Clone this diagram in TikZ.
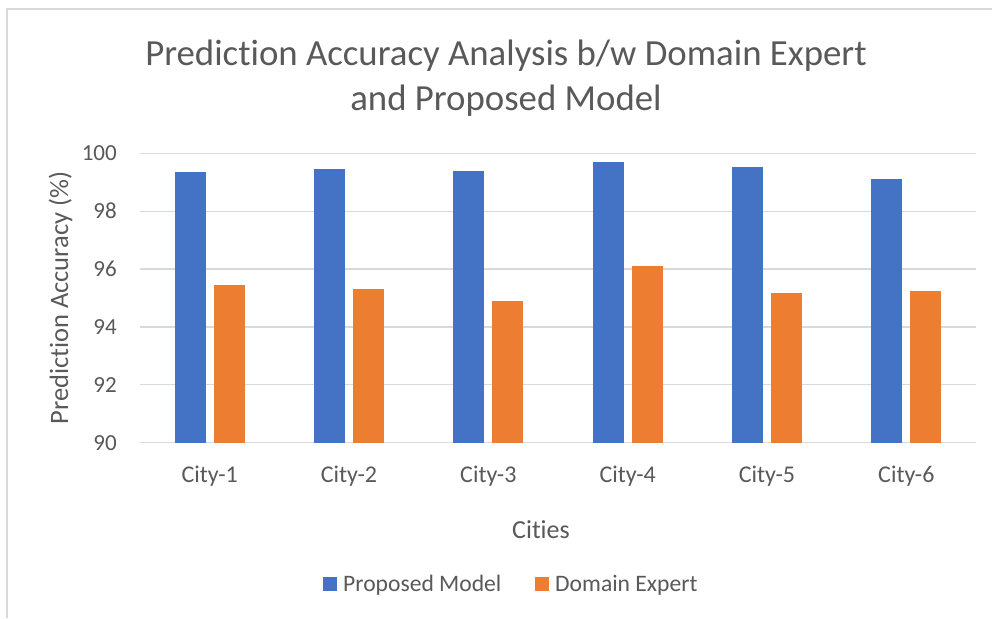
\documentclass[tikz,border=0pt]{standalone}
\usepackage{fontspec}
\setmainfont{Carlito}[Ligatures=NoCommon]
\usepackage{xcolor}
\definecolor{proposed}{RGB}{68,114,196}
\definecolor{expert}{RGB}{237,125,49}
\definecolor{labeltext}{RGB}{89,89,89}
\definecolor{gridline}{RGB}{217,217,217}
\tikzstyle{label}=[inner sep=0pt,text=labeltext]
\tikzstyle{ticklabel}=[label,anchor=east,font=\fontsize{23}{23}\selectfont]
\tikzstyle{citylabel}=[label,anchor=base,font=\fontsize{24}{24}\selectfont]
\tikzstyle{legendlabel}=[label,anchor=base west,font=\fontsize{23.6}{23.6}\selectfont]
\tikzstyle{legendkey}=[inner sep=0pt,minimum width=14pt,minimum height=13.5pt]
\tikzset{grid/.style={draw=gridline,line width=1.3pt},
  frame/.style={draw=gridline,line width=1.5pt}}

\begin{document}
\begin{tikzpicture}[x=1pt,y=-1pt]
  \useasboundingbox (0,0) rectangle (992,618);
  \fill[white] (0,0) rectangle (992,618);

  %% Chart frame
  \draw[frame] (7,618) -- (7,9) -- (992,9);

  %% Title
  \draw (506,65) node[label,anchor=base,font=\fontsize{36.8}{36.8}\selectfont] (title1) {Prediction Accuracy Analysis b/w Domain Expert};
  \draw (506,110) node[label,anchor=base,font=\fontsize{36.8}{36.8}\selectfont] (title2) {and Proposed Model};

  \begin{scope}[shift={(0,3047.3)},y=28.94pt]
  %% Grid
  \draw[grid] (140,90) -- (976,90);
  \draw[grid] (140,92) -- (976,92);
  \draw[grid] (140,94) -- (976,94);
  \draw[grid] (140,96) -- (976,96);
  \draw[grid] (140,98) -- (976,98);
  \draw[grid] (140,100) -- (976,100);

  \draw (117,90) node[ticklabel] (T90) {90};
  \draw (117,92) node[ticklabel] (T92) {92};
  \draw (117,94) node[ticklabel] (T94) {94};
  \draw (117,96) node[ticklabel] (T96) {96};
  \draw (117,98) node[ticklabel] (T98) {98};
  \draw (117,100) node[ticklabel] (T100) {100};

  %% Bars
  \fill[proposed] (174.7,90) rectangle (205.7,99.34);
  \fill[expert] (213.7,90) rectangle (244.7,95.44);
  \fill[proposed] (314,90) rectangle (345,99.45);
  \fill[expert] (353,90) rectangle (384,95.31);
  \fill[proposed] (453.3,90) rectangle (484.3,99.39);
  \fill[expert] (492.3,90) rectangle (523.3,94.90);
  \fill[proposed] (592.7,90) rectangle (623.7,99.69);
  \fill[expert] (631.7,90) rectangle (662.7,96.11);
  \fill[proposed] (732,90) rectangle (763,99.52);
  \fill[expert] (771,90) rectangle (802,95.17);
  \fill[proposed] (871.3,90) rectangle (902.3,99.12);
  \fill[expert] (910.3,90) rectangle (941.3,95.24);
  \end{scope}

  %% Categories
  \draw (209.7,482) node[citylabel] (C1) {City-1};
  \draw (349,482) node[citylabel] (C2) {City-2};
  \draw (488.3,482) node[citylabel] (C3) {City-3};
  \draw (627.7,482) node[citylabel] (C4) {City-4};
  \draw (767,482) node[citylabel] (C5) {City-5};
  \draw (906.3,482) node[citylabel] (C6) {City-6};

  %% Axis titles
  \draw (541,538) node[label,anchor=base,font=\fontsize{26}{26}\selectfont] (xtitle) {Cities};
  \draw (68,298) node[label,anchor=base,rotate=90,font=\fontsize{26.5}{26.5}\selectfont] (ytitle) {Prediction Accuracy (\%)};

  %% Legend
  \draw (330,584) node[legendkey,fill=proposed] (Kprop) {};
  \draw (343,591) node[legendlabel] (Lprop) {Proposed Model};
  \draw (542,584) node[legendkey,fill=expert] (Kexp) {};
  \draw (555,591) node[legendlabel] (Lexp) {Domain Expert};
\end{tikzpicture}
\end{document}
